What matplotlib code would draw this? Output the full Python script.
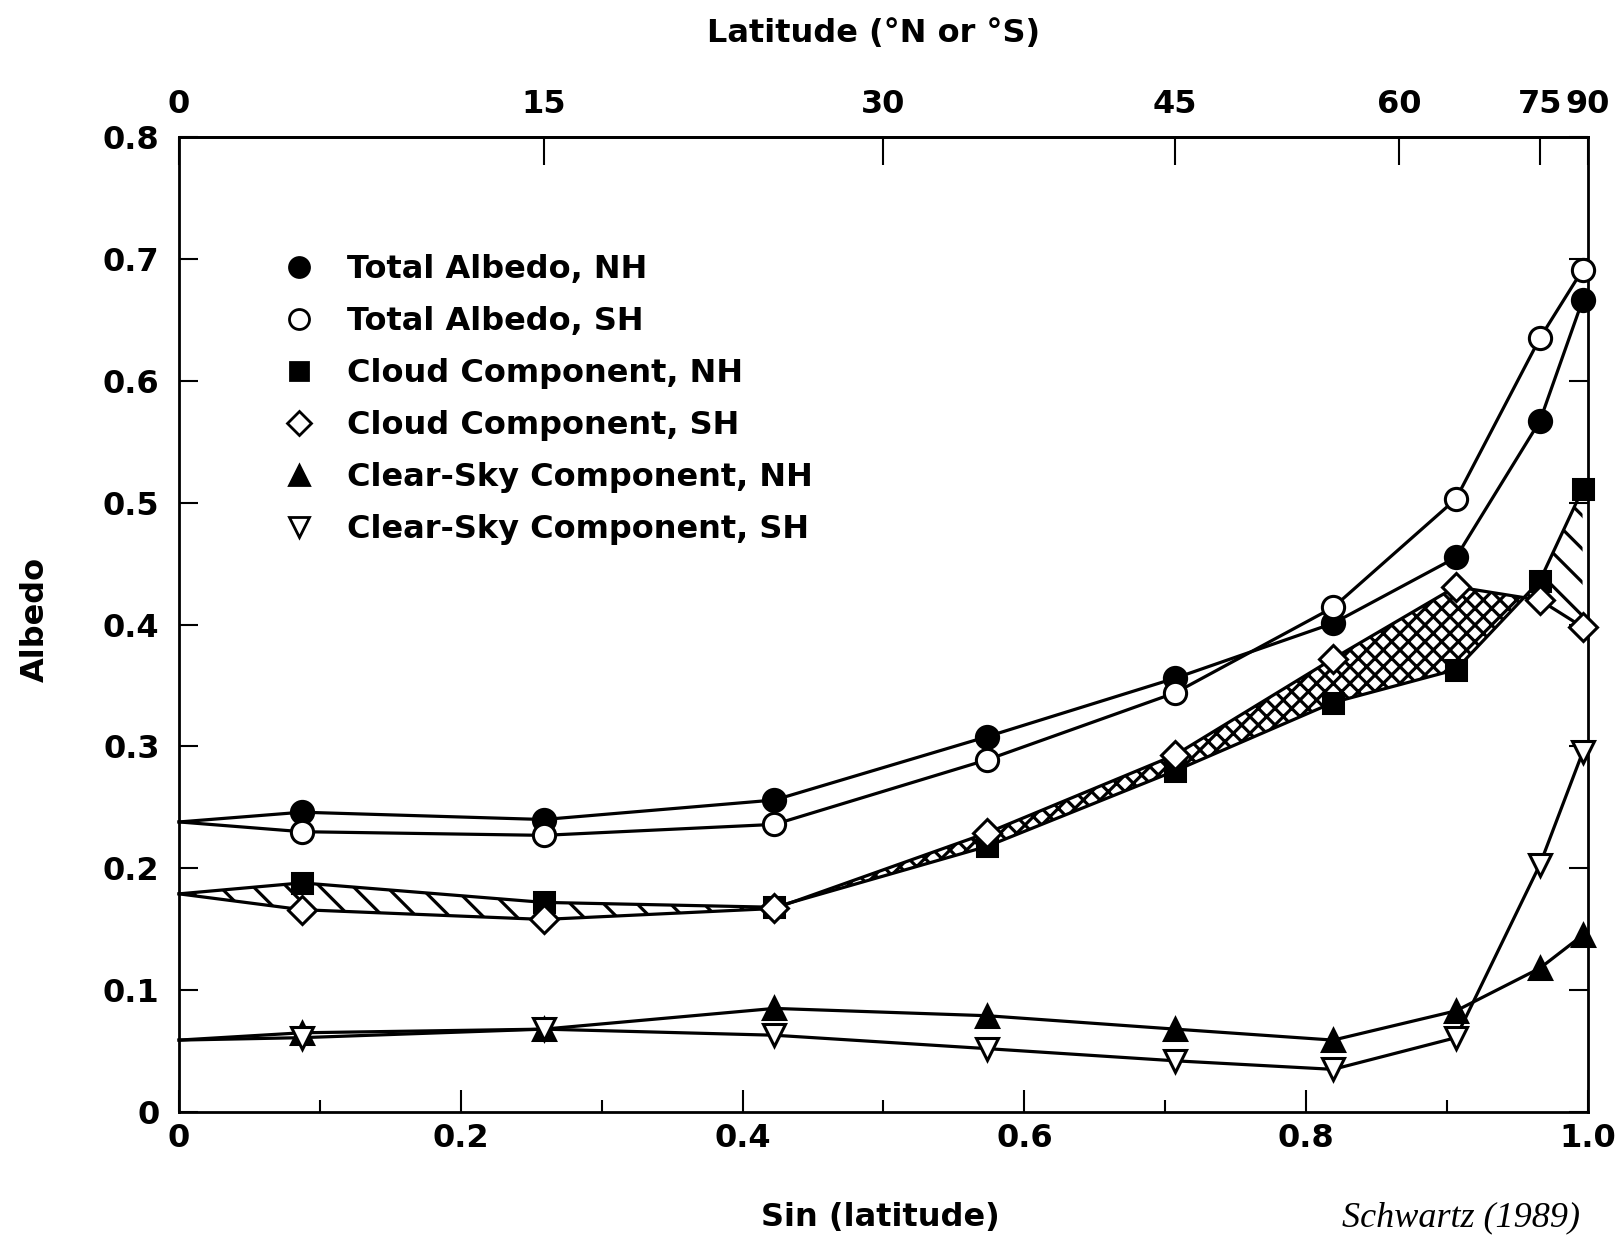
import numpy as np
import matplotlib.pyplot as plt
from matplotlib.lines import Line2D

plt.rcParams['font.family'] = ['DejaVu Sans']
plt.rcParams['font.weight'] = 'bold'
plt.rcParams['hatch.linewidth'] = 2.3

# zonal mean albedo by latitude band (first value is the equator, no marker)
latitude = [0, 5, 15, 25, 35, 45, 55, 65, 75, 85]
total_nh = [0.238, 0.246, 0.240, 0.256, 0.308, 0.356, 0.401, 0.455, 0.567, 0.666]
total_sh = [0.238, 0.230, 0.227, 0.236, 0.289, 0.344, 0.414, 0.503, 0.635, 0.691]
cloud_nh = [0.179, 0.188, 0.172, 0.168, 0.218, 0.280, 0.336, 0.363, 0.436, 0.511]
cloud_sh = [0.179, 0.166, 0.158, 0.167, 0.229, 0.293, 0.372, 0.431, 0.420, 0.398]
clear_nh = [0.059, 0.065, 0.068, 0.085, 0.079, 0.068, 0.059, 0.083, 0.118, 0.145]
clear_sh = [0.059, 0.061, 0.068, 0.063, 0.052, 0.042, 0.035, 0.061, 0.203, 0.295]

top_lat = [0, 15, 30, 45, 60, 75, 90]
x_ticks = [0, 0.2, 0.4, 0.6, 0.8, 1.0]
x_labels = ['0', '0.2', '0.4', '0.6', '0.8', '1.0']
y_ticks = [0, 0.1, 0.2, 0.3, 0.4, 0.5, 0.6, 0.7, 0.8]
y_labels = ['0', '0.1', '0.2', '0.3', '0.4', '0.5', '0.6', '0.7', '0.8']

FS = 23

x = np.sin(np.radians(latitude))

fig = plt.figure(figsize=(16.19, 12.39), dpi=100)
ax = fig.add_axes([0.1106, 0.1025, 0.8702, 0.7869])
ax.set_xlim(0, 1)
ax.set_ylim(0, 0.8)

# hatch the gap between the two cloud components
cn = np.array(cloud_nh)
cs = np.array(cloud_sh)
ax.fill_between(x, cn, cs, where=cn >= cs, interpolate=True,
                facecolor='white', edgecolor='black', hatch='\\', linewidth=0, zorder=1)
ax.fill_between(x, cn, cs, where=cn <= cs, interpolate=True,
                facecolor='white', edgecolor='black', hatch='xx', linewidth=0, zorder=1)

series = [
    (total_nh, 'o', 'black', 16, 'Total Albedo, NH'),
    (total_sh, 'o', 'white', 16, 'Total Albedo, SH'),
    (cloud_nh, 's', 'black', 15, 'Cloud Component, NH'),
    (cloud_sh, 'D', 'white', 14, 'Cloud Component, SH'),
    (clear_nh, '^', 'black', 16, 'Clear-Sky Component, NH'),
    (clear_sh, 'v', 'white', 16, 'Clear-Sky Component, SH'),
]

handles = []
for vals, mk, fc, ms, label in series:
    ax.plot(x, vals, color='black', lw=2.3, zorder=2, clip_on=False)
    ax.plot(x[1:], vals[1:], linestyle='none', marker=mk, markersize=ms,
            markerfacecolor=fc, markeredgecolor='black', markeredgewidth=2.2,
            zorder=3, clip_on=False)
    handles.append(Line2D([], [], linestyle='none', marker=mk, markersize=ms * 0.9,
                          markerfacecolor=fc, markeredgecolor='black',
                          markeredgewidth=2.0, label=label))

ax.legend(handles=handles, loc='upper left', bbox_to_anchor=(0.074, 0.880),
          frameon=False, fontsize=FS, handlelength=1.0, handletextpad=1.0,
          labelspacing=0.66, borderaxespad=0, borderpad=0)

for sp in ax.spines.values():
    sp.set_linewidth(2)

ax.set_xticks(x_ticks, x_labels)
ax.set_xticks([0.1, 0.3, 0.5, 0.7, 0.9], minor=True)
ax.set_yticks(y_ticks, y_labels)
ax.tick_params(axis='x', which='major', direction='in', length=16, width=1.5,
               labelsize=FS, pad=8, top=False)
ax.tick_params(axis='x', which='minor', direction='in', length=9, width=1.5, top=False)
ax.tick_params(axis='y', direction='in', length=14, width=1.5, labelsize=FS,
               pad=14, right=True)

top = ax.secondary_xaxis('top')
top.set_xticks(np.sin(np.radians(top_lat)), [str(v) for v in top_lat])
top.tick_params(direction='in', length=20, width=1.5, labelsize=FS, pad=12)
top.spines['top'].set_linewidth(2)

fig.text(0.5395, 0.973, 'Latitude (\u00b0N or \u00b0S)', ha='center', va='center',
         fontsize=FS, fontweight='bold')
fig.text(0.5435, 0.017, 'Sin (latitude)', ha='center', va='center',
         fontsize=FS, fontweight='bold')
fig.text(0.022, 0.50, 'Albedo', ha='center', va='center', rotation=90,
         fontsize=FS, fontweight='bold')
fig.text(0.976, 0.004, 'Schwartz (1989)', ha='right', va='bottom',
         fontsize=26, family='Liberation Serif', style='italic', fontweight='normal')

fig.savefig('out.png', dpi=100)
